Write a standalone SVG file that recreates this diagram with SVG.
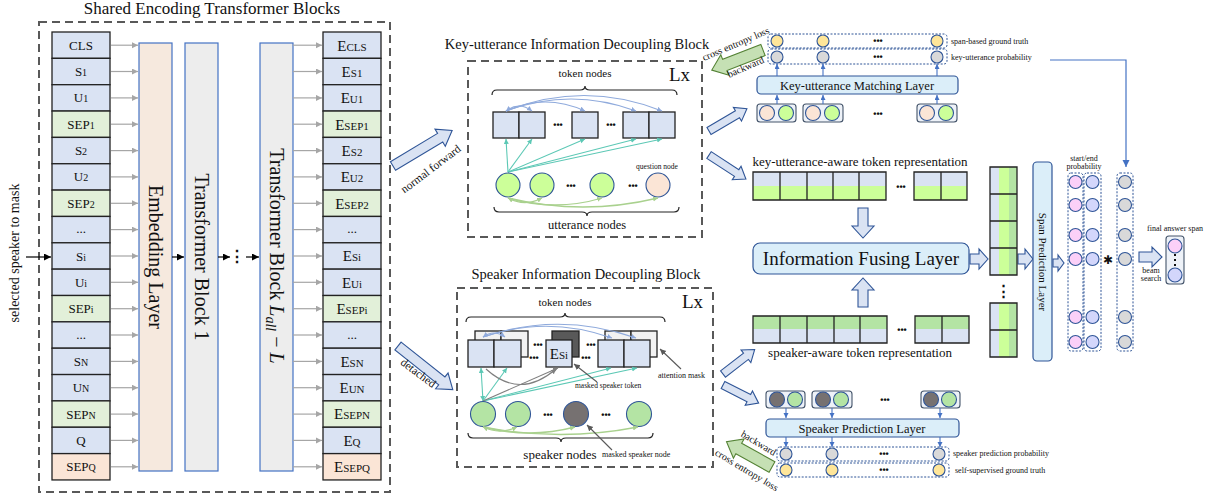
<svg xmlns="http://www.w3.org/2000/svg" width="1215" height="497" viewBox="0 0 1215 497">
<style>
text{font-family:"Liberation Serif","Times New Roman",serif;fill:#111}
.c{text-anchor:middle}
.t13{font-size:13px;text-anchor:middle}
.t15{font-size:15px;text-anchor:middle}
.sb{font-size:10px}
.sb11{font-size:11px}
.tok{stroke:#222;stroke-width:1.3}
.bl{fill:#dae3f3}.gr{fill:#e2f0d9}.pe{fill:#fbe5d6}
.garr{stroke:#a6a6a6;stroke-width:1.2;fill:none;marker-end:url(#mGray)}
.dash{fill:none;stroke:#595959;stroke-width:2;stroke-dasharray:8 5}
.layer{stroke:#4472c4;stroke-width:1.2}
.blk{fill:#dae3f3;stroke:#2f5597;stroke-width:1.1}
.gblk{fill:#c5e0b4;stroke:#548235;stroke-width:1.1}
.lay2{fill:#dbeef9;stroke:#2f5597;stroke-width:1.2}
.dots{font-family:"Liberation Sans",Arial,sans-serif;font-weight:bold;font-size:9px;text-anchor:middle;fill:#111}
.nb{stroke:#2f5597;stroke-width:1.1}
.lime{fill:#ccff99}.sg{fill:#b4e4a4}.dk{fill:#767171}.yl{fill:#ffe699}.gy{fill:#d9d9d9}.pk{fill:#fbd0f8}.lv{fill:#d3d6fb}.pc{fill:#fbe5d6}
.rowbox{fill:#fff;stroke:#2f5597;stroke-width:1;stroke-dasharray:2 1.5}
.pair{fill:#eef2f8;stroke:#44546a;stroke-width:1.1}
.barr{stroke:#4472c4;stroke-width:1.1;fill:none;marker-end:url(#mBlue)}
.arcB{stroke:#8faadc;stroke-width:1.1;fill:none;marker-end:url(#mLB)}
.arcT{stroke:#5cc8b5;stroke-width:1.1;fill:none;marker-end:url(#mT)}
.arcG{stroke:#a9d18e;stroke-width:1.3;fill:none;marker-end:url(#mG)}
.ann{stroke:#595959;stroke-width:1.1;fill:none;marker-end:url(#mD)}
.rep{stroke:#222;stroke-width:1.3;fill:none}
</style>
<defs>
<marker id="mGray" markerUnits="userSpaceOnUse" markerWidth="7" markerHeight="7" refX="6" refY="3" orient="auto"><path d="M0,0 L6,3 L0,6 z" fill="#a6a6a6"/></marker>
<marker id="mBlack" markerUnits="userSpaceOnUse" markerWidth="8" markerHeight="8" refX="7" refY="3.5" orient="auto"><path d="M0,0 L7,3.5 L0,7 z" fill="#000"/></marker>
<marker id="mBlue" markerUnits="userSpaceOnUse" markerWidth="7" markerHeight="7" refX="5" refY="2.5" orient="auto"><path d="M0,0 L5,2.5 L0,5 z" fill="#4472c4"/></marker>
<marker id="mBlue2" markerUnits="userSpaceOnUse" markerWidth="9" markerHeight="9" refX="7" refY="3.5" orient="auto"><path d="M0,0 L7,3.5 L0,7 z" fill="#4472c4"/></marker>
<marker id="mLB" markerUnits="userSpaceOnUse" markerWidth="6" markerHeight="6" refX="5" refY="2.5" orient="auto-start-reverse"><path d="M0,0 L5,2.5 L0,5 z" fill="#8faadc"/></marker>
<marker id="mT" markerUnits="userSpaceOnUse" markerWidth="6" markerHeight="6" refX="5" refY="2.5" orient="auto-start-reverse"><path d="M0,0 L5,2.5 L0,5 z" fill="#5cc8b5"/></marker>
<marker id="mG" markerUnits="userSpaceOnUse" markerWidth="6" markerHeight="6" refX="5" refY="2.5" orient="auto-start-reverse"><path d="M0,0 L5,2.5 L0,5 z" fill="#a9d18e"/></marker>
<marker id="mD" markerUnits="userSpaceOnUse" markerWidth="7" markerHeight="7" refX="6" refY="3" orient="auto"><path d="M0,0 L6,3 L0,6 z" fill="#595959"/></marker>
<marker id="mDG" markerUnits="userSpaceOnUse" markerWidth="6" markerHeight="6" refX="5" refY="2.5" orient="auto"><path d="M0,0 L5,2.5 L0,5 z" fill="#7f7f7f"/></marker>
</defs>
<rect width="1215" height="497" fill="#fff"/>

<!-- ============ Shared encoder ============ -->
<g id="shared-encoder">
<text x="212" y="14" class="c" font-size="17">Shared Encoding Transformer Blocks</text>
<rect x="39" y="22" width="351" height="470" class="dash"/>
</g>

<g id="input-tokens">
<rect class="tok bl" x="52" y="32" width="58" height="26.35"/>
<rect class="tok bl" x="52" y="58.35" width="58" height="26.35"/>
<rect class="tok bl" x="52" y="84.7" width="58" height="26.35"/>
<rect class="tok gr" x="52" y="111.05" width="58" height="26.35"/>
<rect class="tok bl" x="52" y="137.4" width="58" height="26.35"/>
<rect class="tok bl" x="52" y="163.75" width="58" height="26.35"/>
<rect class="tok gr" x="52" y="190.1" width="58" height="26.35"/>
<rect class="tok bl" x="52" y="216.45" width="58" height="26.35"/>
<rect class="tok bl" x="52" y="242.8" width="58" height="26.35"/>
<rect class="tok bl" x="52" y="269.15" width="58" height="26.35"/>
<rect class="tok gr" x="52" y="295.5" width="58" height="26.35"/>
<rect class="tok bl" x="52" y="321.85" width="58" height="26.35"/>
<rect class="tok bl" x="52" y="348.2" width="58" height="26.35"/>
<rect class="tok bl" x="52" y="374.55" width="58" height="26.35"/>
<rect class="tok gr" x="52" y="400.9" width="58" height="26.35"/>
<rect class="tok bl" x="52" y="427.25" width="58" height="26.35"/>
<rect class="tok pe" x="52" y="453.6" width="58" height="26.35"/>
<text class="t13" x="81" y="49.7">CLS</text>
<text class="t13" x="81" y="76">S<tspan class="sb">1</tspan></text>
<text class="t13" x="81" y="102.4">U<tspan class="sb">1</tspan></text>
<text class="t13" x="81" y="128.7">SEP<tspan class="sb">1</tspan></text>
<text class="t13" x="81" y="155.1">S<tspan class="sb">2</tspan></text>
<text class="t13" x="81" y="181.4">U<tspan class="sb">2</tspan></text>
<text class="t13" x="81" y="207.8">SEP<tspan class="sb">2</tspan></text>
<text class="t13" x="81" y="233">...</text>
<text class="t13" x="81" y="260.5">S<tspan class="sb">i</tspan></text>
<text class="t13" x="81" y="286.8">U<tspan class="sb">i</tspan></text>
<text class="t13" x="81" y="313.2">SEP<tspan class="sb">i</tspan></text>
<text class="t13" x="81" y="338.5">...</text>
<text class="t13" x="81" y="365.9">S<tspan class="sb">N</tspan></text>
<text class="t13" x="81" y="392.2">U<tspan class="sb">N</tspan></text>
<text class="t13" x="81" y="418.6">SEP<tspan class="sb">N</tspan></text>
<text class="t13" x="81" y="444.9">Q</text>
<text class="t13" x="81" y="471.3">SEP<tspan class="sb">Q</tspan></text>
</g>

<g id="embedding-layer">
<rect class="layer" x="139" y="43" width="33" height="428" fill="#f6e9de"/>
<text transform="translate(155.5,257) rotate(90)" class="c" font-size="20" y="7">Embedding Layer</text>
</g>
<g id="transformer-block-1">
<rect class="layer" x="185" y="43" width="33" height="428" fill="#ededed"/>
<text transform="translate(201.5,257) rotate(90)" class="c" font-size="20" y="7">Transformer Block 1</text>
</g>
<g id="transformer-block-L">
<rect class="layer" x="260" y="43" width="33" height="428" fill="#ededed"/>
<text transform="translate(276.5,256) rotate(90)" class="c" font-size="20" y="7">Transformer Block <tspan font-style="italic">L</tspan><tspan font-style="italic" font-size="14" dy="4">all</tspan><tspan dy="-4"> − </tspan><tspan font-style="italic">L</tspan></text>
</g>

<g id="output-tokens">
<rect class="tok bl" x="323" y="32" width="58" height="26.35"/>
<rect class="tok bl" x="323" y="58.35" width="58" height="26.35"/>
<rect class="tok bl" x="323" y="84.7" width="58" height="26.35"/>
<rect class="tok gr" x="323" y="111.05" width="58" height="26.35"/>
<rect class="tok bl" x="323" y="137.4" width="58" height="26.35"/>
<rect class="tok bl" x="323" y="163.75" width="58" height="26.35"/>
<rect class="tok gr" x="323" y="190.1" width="58" height="26.35"/>
<rect class="tok bl" x="323" y="216.45" width="58" height="26.35"/>
<rect class="tok bl" x="323" y="242.8" width="58" height="26.35"/>
<rect class="tok bl" x="323" y="269.15" width="58" height="26.35"/>
<rect class="tok gr" x="323" y="295.5" width="58" height="26.35"/>
<rect class="tok bl" x="323" y="321.85" width="58" height="26.35"/>
<rect class="tok bl" x="323" y="348.2" width="58" height="26.35"/>
<rect class="tok bl" x="323" y="374.55" width="58" height="26.35"/>
<rect class="tok gr" x="323" y="400.9" width="58" height="26.35"/>
<rect class="tok bl" x="323" y="427.25" width="58" height="26.35"/>
<rect class="tok pe" x="323" y="453.6" width="58" height="26.35"/>
<text class="t15" x="352" y="50.5">E<tspan class="sb11">CLS</tspan></text>
<text class="t15" x="352" y="76.8">E<tspan class="sb11">S1</tspan></text>
<text class="t15" x="352" y="103.2">E<tspan class="sb11">U1</tspan></text>
<text class="t15" x="352" y="129.5">E<tspan class="sb11">SEP1</tspan></text>
<text class="t15" x="352" y="155.9">E<tspan class="sb11">S2</tspan></text>
<text class="t15" x="352" y="182.2">E<tspan class="sb11">U2</tspan></text>
<text class="t15" x="352" y="208.6">E<tspan class="sb11">SEP2</tspan></text>
<text class="t13" x="352" y="233">...</text>
<text class="t15" x="352" y="261.3">E<tspan class="sb11">Si</tspan></text>
<text class="t15" x="352" y="287.6">E<tspan class="sb11">Ui</tspan></text>
<text class="t15" x="352" y="314">E<tspan class="sb11">SEPi</tspan></text>
<text class="t13" x="352" y="338.5">...</text>
<text class="t15" x="352" y="366.7">E<tspan class="sb11">SN</tspan></text>
<text class="t15" x="352" y="393">E<tspan class="sb11">UN</tspan></text>
<text class="t15" x="352" y="419.4">E<tspan class="sb11">SEPN</tspan></text>
<text class="t15" x="352" y="445.7">E<tspan class="sb11">Q</tspan></text>
<text class="t15" x="352" y="472.1">E<tspan class="sb11">SEPQ</tspan></text>
</g>

<g id="mask-label">
<text transform="translate(19,253) rotate(-90)" class="c" font-size="14">selected speaker to mask</text>
</g>

<g id="encoder-connectors">
<path class="garr" d="M111,45.2H138"/><path class="garr" d="M111,71.5H138"/><path class="garr" d="M111,97.9H138"/><path class="garr" d="M111,124.2H138"/><path class="garr" d="M111,150.6H138"/><path class="garr" d="M111,176.9H138"/><path class="garr" d="M111,203.3H138"/><path class="garr" d="M111,229.6H138"/><path class="garr" d="M111,256H138"/><path class="garr" d="M111,282.3H138"/><path class="garr" d="M111,308.7H138"/><path class="garr" d="M111,335H138"/><path class="garr" d="M111,361.4H138"/><path class="garr" d="M111,387.7H138"/><path class="garr" d="M111,414.1H138"/><path class="garr" d="M111,440.4H138"/><path class="garr" d="M111,466.8H138"/>
<path class="garr" d="M293,45.2H322"/><path class="garr" d="M293,71.5H322"/><path class="garr" d="M293,97.9H322"/><path class="garr" d="M293,124.2H322"/><path class="garr" d="M293,150.6H322"/><path class="garr" d="M293,176.9H322"/><path class="garr" d="M293,203.3H322"/><path class="garr" d="M293,229.6H322"/><path class="garr" d="M293,256H322"/><path class="garr" d="M293,282.3H322"/><path class="garr" d="M293,308.7H322"/><path class="garr" d="M293,335H322"/><path class="garr" d="M293,361.4H322"/><path class="garr" d="M293,387.7H322"/><path class="garr" d="M293,414.1H322"/><path class="garr" d="M293,440.4H322"/><path class="garr" d="M293,466.8H322"/>
<g stroke="#000" stroke-width="1.2" fill="none" marker-end="url(#mBlack)">
<path d="M26,257H51"/>
<path d="M172,257H184"/>
<path d="M218,257H230"/>
<path d="M246,257H259"/>
</g>
<text x="237" y="262" class="c" font-size="16" font-weight="bold" font-family="DejaVu Sans, sans-serif">⋮</text>
</g>

<!-- ============ Key-utterance block ============ -->
<g id="key-utterance-block">
<text x="577" y="49" class="c" font-size="14.5">Key-utterance Information Decoupling Block</text>
<rect x="468" y="61" width="234" height="176" class="dash"/>
<text x="669" y="81" font-size="19">Lx</text>
<text x="585" y="77" class="c" font-size="11">token nodes</text>
<path d="M492,95 Q492,90 497,90 L580,90 Q585,90 585,86 Q585,90 590,90 L672,90 Q677,90 677,95" fill="none" stroke="#222" stroke-width="1.2"/>
<g class="tok bl">
<rect x="493" y="112" width="26" height="26"/>
<rect x="519" y="112" width="26" height="26"/>
<rect x="572" y="112" width="26" height="26"/>
<rect x="623" y="112" width="26" height="26"/>
<rect x="649" y="112" width="26" height="26"/>
</g>
<text class="dots" x="558" y="128">•••</text>
<text class="dots" x="611" y="128">•••</text>
<path class="arcB" d="M506,111 Q519,101 532,111" marker-start="url(#mLB)"/>
<path class="arcB" d="M506,111 Q545,93 585,111"/>
<path class="arcB" d="M506,111 Q571,87 636,111"/>
<path class="arcB" d="M506,111 Q584,80 662,111"/>
<path class="arcT" d="M508,172 L506,139"/>
<path class="arcT" d="M508,172 L532,139"/>
<path class="arcT" d="M508,172 L585,139"/>
<path class="arcT" d="M508,172 L636,139"/>
<path class="arcT" d="M508,172 L662,139"/>
<g class="nb">
<circle class="lime" cx="508" cy="185" r="12"/>
<circle class="lime" cx="542" cy="185" r="12"/>
<circle class="lime" cx="602" cy="185" r="12"/>
<circle class="pc" cx="658" cy="185" r="12"/>
</g>
<text class="dots" x="571" y="189">•••</text>
<text class="dots" x="633" y="189">•••</text>
<text x="657" y="169" class="c" font-size="7.5">question node</text>
<path class="arcG" d="M508,198 Q525,207 542,198" marker-start="url(#mG)"/>
<path class="arcG" d="M508,198 Q555,212 602,198"/>
<path class="arcG" d="M508,198 Q583,216 658,198"/>
<path d="M494,207 Q494,212 499,212 L582,212 Q587,212 587,216 Q587,212 592,212 L674,212 Q679,212 679,207" fill="none" stroke="#222" stroke-width="1.2"/>
<text x="587" y="229" class="c" font-size="12.5">utterance nodes</text>
</g>

<!-- ============ Speaker block ============ -->
<g id="speaker-block">
<text x="586" y="279" class="c" font-size="14.5">Speaker Information Decoupling Block</text>
<rect x="457" y="288" width="256" height="179" class="dash"/>
<text x="682" y="308" font-size="19">Lx</text>
<text x="565" y="306" class="c" font-size="11">token nodes</text>
<path d="M466,322 Q466,317 471,317 L560,317 Q565,317 565,313 Q565,317 570,317 L660,317 Q665,317 665,322" fill="none" stroke="#222" stroke-width="1.2"/>
<g class="tok" fill="#f2f2f2">
<rect x="475" y="331" width="26" height="26"/>
<rect x="501" y="331" width="27" height="26"/>
<rect x="605" y="331" width="26" height="26"/>
<rect x="631" y="331" width="26" height="26"/>
</g>
<rect class="tok" x="552" y="331" width="27" height="26" fill="#595959"/>
<g class="tok bl">
<rect x="468" y="340" width="26" height="27"/>
<rect x="494" y="340" width="27" height="27"/>
<rect x="546" y="340" width="26" height="27"/>
<rect x="598" y="340" width="26" height="27"/>
<rect x="624" y="340" width="26" height="27"/>
</g>
<text x="559" y="359" class="c" font-size="15">E<tspan font-size="11">Si</tspan></text>
<text class="dots" x="538" y="348">•••</text>
<text class="dots" x="534" y="361">•••</text>
<text class="dots" x="591" y="348">•••</text>
<text class="dots" x="586" y="361">•••</text>
<path class="arcB" d="M483,337 Q494,329 505,337" marker-start="url(#mLB)"/>
<path class="arcB" d="M483,337 Q547,315 612,338"/>
<path class="arcB" d="M483,337 Q559,311 636,338"/>
<path class="arcT" d="M483,401 L481,368" marker-start="url(#mT)"/>
<path class="arcT" d="M483,401 L507,368"/>
<path class="arcT" d="M483,401 L611,368"/>
<path class="arcT" d="M483,401 L637,368"/>
<path d="M483,401 L558,368" stroke="#7f7f7f" stroke-width="1.1" fill="none" marker-end="url(#mDG)"/>
<path d="M486,369 Q520,400 556,369" stroke="#7f7f7f" stroke-width="1.1" fill="none" marker-end="url(#mDG)"/>
<g class="nb">
<circle class="sg" cx="483" cy="414" r="12.5"/>
<circle class="sg" cx="518" cy="414" r="12.5"/>
<circle class="dk" cx="576" cy="414" r="12.5"/>
<circle class="sg" cx="639" cy="414" r="12.5"/>
</g>
<text class="dots" x="548" y="418">•••</text>
<text class="dots" x="606" y="418">•••</text>
<path class="arcG" d="M483,427 Q500,435 517,427" marker-start="url(#mG)"/>
<path class="arcG" d="M483,427 Q529,439 575,427"/>
<path class="arcG" d="M483,427 Q561,442 638,427"/>
<path d="M468,433 Q468,438 473,438 L556,438 Q561,438 561,442 Q561,438 566,438 L648,438 Q653,438 653,433" fill="none" stroke="#222" stroke-width="1.2"/>
<text x="560" y="459" class="c" font-size="13">speaker nodes</text>
<text x="602" y="457" font-size="8">masked speaker node</text>
<path class="ann" d="M612,450 L587,425"/>
<text x="575" y="388" font-size="7.5">masked speaker token</text>
<path class="ann" d="M597,382 L574,364"/>
<text x="658" y="378" font-size="8">attention mask</text>
<path class="ann" d="M681,369 L660,349"/>
</g>

<!-- ============ Block arrows ============ -->
<g id="block-arrows">
<g transform="translate(393,166) rotate(-31)">
<polygon class="blk" points="0,-5 55,-5 55,-10 69,0 55,10 55,5 0,5"/>
</g>
<text transform="translate(433,172) rotate(-37)" class="c" font-size="11.5">normal forward</text>
<g transform="translate(398,346) rotate(38.5)">
<polygon class="blk" points="0,-5 56,-5 56,-10 70,0 56,10 56,5 0,5"/>
</g>
<text transform="translate(416,376) rotate(37)" class="c" font-size="11.5">detached</text>
<g transform="translate(709,131) rotate(-30.5)"><polygon class="blk" points="0,-4 33,-4 33,-8 44,0 33,8 33,4 0,4"/></g>
<g transform="translate(709,155) rotate(33)"><polygon class="blk" points="0,-4 33,-4 33,-8 44,0 33,8 33,4 0,4"/></g>
<g transform="translate(723,374) rotate(-37.7)"><polygon class="blk" points="0,-4 29,-4 29,-8 40,0 29,8 29,4 0,4"/></g>
<g transform="translate(723,385) rotate(27)"><polygon class="blk" points="0,-4 29,-4 29,-8 40,0 29,8 29,4 0,4"/></g>
<g transform="translate(763,50) rotate(158.6)"><polygon class="gblk" points="0,-6 41,-6 41,-11 55,0 41,11 41,6 0,6"/></g>
<text transform="translate(737,47) rotate(-23)" class="c" font-size="10">cross entropy loss</text>
<text transform="translate(747,70) rotate(-24)" class="c" font-size="10">backward</text>
<g transform="translate(772,467) rotate(-151)"><polygon class="gblk" points="0,-6 38,-6 38,-11 52,0 38,11 38,6 0,6"/></g>
<text transform="translate(757,446) rotate(31)" class="c" font-size="10">backward</text>
<text transform="translate(745,473) rotate(31)" class="c" font-size="10">cross entropy loss</text>
<g transform="translate(863,208) rotate(90)"><polygon class="blk" points="0,-5 18,-5 18,-11 30,0 18,11 18,5 0,5"/></g>
<g transform="translate(863,307) rotate(-90)"><polygon class="blk" points="0,-5 17,-5 17,-11 29,0 17,11 17,5 0,5"/></g>
<g transform="translate(970,259)"><polygon class="blk" points="0,-5 9,-5 9,-10 18,0 9,10 9,5 0,5"/></g>
<g transform="translate(1018,259)"><polygon class="blk" points="0,-5 7,-5 7,-10 15,0 7,10 7,5 0,5"/></g>
<g transform="translate(1053,263)"><polygon class="blk" points="0,-4 5,-4 5,-8 11,0 5,8 5,4 0,4"/></g>
<g transform="translate(1139,257)"><polygon class="blk" points="0,-5 13,-5 13,-10 23,0 13,10 13,5 0,5"/></g>
</g>

<!-- ============ Key-utterance matching ============ -->
<g id="span-ground-truth">
<rect class="rowbox" x="768" y="34" width="179" height="14" rx="3"/>
<g class="nb yl"><circle cx="777" cy="41" r="6"/><circle cx="823" cy="41" r="6"/><circle cx="937" cy="41" r="6"/></g>
<text class="dots" x="878" y="44">•••</text>
<text x="951" y="44" font-size="8">span-based ground truth</text>
</g>
<g id="key-utterance-probability">
<rect class="rowbox" x="768" y="49" width="179" height="15" rx="3"/>
<g class="nb gy"><circle cx="777" cy="57" r="6"/><circle cx="823" cy="57" r="6"/><circle cx="937" cy="57" r="6"/></g>
<text class="dots" x="878" y="60">•••</text>
<text x="951" y="60" font-size="8">key-utterance probability</text>
</g>
<g id="key-utterance-matching-layer">
<rect class="lay2" x="757" y="76" width="201" height="18" rx="4"/>
<text x="857" y="89.5" class="c" font-size="12.5">Key-utterance Matching Layer</text>
</g>
<g id="key-pairs">
<rect class="pair" x="757" y="104" width="39" height="18" rx="3"/>
<rect class="pair" x="803" y="104" width="40" height="18" rx="3"/>
<rect class="pair" x="917" y="104" width="40" height="18" rx="3"/>
<g class="nb">
<circle class="pc" cx="767" cy="113" r="7.5"/><circle class="lime" cx="786" cy="113" r="7.5"/>
<circle class="pc" cx="813" cy="113" r="7.5"/><circle class="lime" cx="832" cy="113" r="7.5"/>
<circle class="pc" cx="927" cy="113" r="7.5"/><circle class="lime" cx="946" cy="113" r="7.5"/>
</g>
<text class="dots" x="878" y="117">•••</text>
</g>

<!-- ============ Representations ============ -->
<g id="key-aware-representation">
<text x="860" y="166" class="c" font-size="13">key-utterance-aware token representation</text>
<g fill="#dae3f3"><rect x="753" y="172" width="133" height="14"/><rect x="914" y="172" width="53" height="14"/></g>
<g fill="#ccff99"><rect x="753" y="186" width="133" height="14"/><rect x="914" y="186" width="53" height="14"/></g>
<path class="rep" d="M753,172H886V200H753Z M780,172V200 M807,172V200 M833,172V200 M859,172V200 M914,172H967V200H914Z M941,172V200"/>
<text class="dots" x="901" y="190">•••</text>
</g>
<g id="information-fusing-layer">
<rect class="lay2" x="753" y="243" width="216" height="31" rx="7"/>
<text x="861" y="265" class="c" font-size="19">Information Fusing Layer</text>
</g>
<g id="speaker-aware-representation">
<g fill="#b4e4a4"><rect x="753" y="316" width="134" height="13"/><rect x="915" y="316" width="54" height="13"/></g>
<g fill="#dae3f3"><rect x="753" y="329" width="134" height="14"/><rect x="915" y="329" width="54" height="14"/></g>
<path class="rep" d="M753,316H887V343H753Z M780,316V343 M807,316V343 M834,316V343 M860,316V343 M915,316H969V343H915Z M942,316V343"/>
<text class="dots" x="902" y="333">•••</text>
<text x="860" y="357" class="c" font-size="13">speaker-aware token representation</text>
</g>
<g id="fused-representation">
<rect x="990" y="167" width="9" height="108" fill="#dae3f3"/><rect x="999" y="167" width="10" height="108" fill="#ccff99"/><rect x="1009" y="167" width="8" height="108" fill="#b4e4a4"/>
<rect x="990" y="303" width="9" height="54" fill="#dae3f3"/><rect x="999" y="303" width="10" height="54" fill="#ccff99"/><rect x="1009" y="303" width="8" height="54" fill="#b4e4a4"/>
<path class="rep" d="M990,167H1017V275H990Z M990,194H1017 M990,221H1017 M990,248H1017 M990,303H1017V357H990Z M990,330H1017"/>
<text x="1003.5" y="296" class="c" font-size="15" font-weight="bold" font-family="DejaVu Sans, sans-serif">⋮</text>
</g>
<g id="span-prediction-layer">
<rect class="lay2" x="1033" y="162" width="19" height="199" rx="4"/>
<text transform="translate(1042.5,262) rotate(90)" class="c" font-size="11" y="4">Span Prediction Layer</text>
</g>
<g id="start-end-probability">
<text x="1084" y="161" class="c" font-size="8">start/end</text>
<text x="1084" y="169" class="c" font-size="8">probability</text>
<rect class="rowbox" x="1068" y="173" width="15" height="178" rx="3"/>
<rect class="rowbox" x="1084" y="173" width="17" height="178" rx="3"/>
<g class="nb pk"><circle cx="1075.5" cy="182" r="6.5"/><circle cx="1075.5" cy="205" r="6.5"/><circle cx="1075.5" cy="235" r="6.5"/><circle cx="1075.5" cy="259" r="6.5"/><circle cx="1075.5" cy="317" r="6.5"/><circle cx="1075.5" cy="342" r="6.5"/></g>
<g class="nb lv"><circle cx="1092.5" cy="182" r="6.5"/><circle cx="1092.5" cy="205" r="6.5"/><circle cx="1092.5" cy="235" r="6.5"/><circle cx="1092.5" cy="259" r="6.5"/><circle cx="1092.5" cy="317" r="6.5"/><circle cx="1092.5" cy="342" r="6.5"/></g>
</g>
<text x="1108" y="264" class="c" font-size="12" font-family="DejaVu Sans, sans-serif">✱</text>
<g id="key-utterance-weights">
<rect class="rowbox" x="1117" y="173" width="16" height="178" rx="3"/>
<g class="nb gy"><circle cx="1125" cy="182" r="6.5"/><circle cx="1125" cy="205" r="6.5"/><circle cx="1125" cy="235" r="6.5"/><circle cx="1125" cy="259" r="6.5"/><circle cx="1125" cy="317" r="6.5"/><circle cx="1125" cy="342" r="6.5"/></g>
</g>
<g id="final-answer-span">
<text x="1175" y="231" class="c" font-size="8">final answer span</text>
<rect class="pair" x="1166" y="236" width="18" height="48" rx="3"/>
<g class="nb"><circle class="pk" cx="1175" cy="246" r="7"/><circle class="lv" cx="1175" cy="275" r="7"/></g>
<g fill="#111"><rect x="1174" y="254" width="2" height="2"/><rect x="1174" y="259" width="2" height="2"/><rect x="1174" y="264" width="2" height="2"/></g>
<text x="1151" y="273" class="c" font-size="8">beam</text>
<text x="1151" y="281" class="c" font-size="8">search</text>
</g>

<!-- ============ Speaker prediction ============ -->
<g id="speaker-pairs">
<rect class="pair" x="766" y="391" width="39" height="17" rx="3"/>
<rect class="pair" x="812" y="391" width="40" height="17" rx="3"/>
<rect class="pair" x="921" y="391" width="39" height="17" rx="3"/>
<g class="nb">
<circle class="dk" cx="777" cy="399.5" r="7.5"/><circle class="sg" cx="795" cy="399.5" r="7.5"/>
<circle class="dk" cx="823" cy="399.5" r="7.5"/><circle class="sg" cx="841" cy="399.5" r="7.5"/>
<circle class="dk" cx="931" cy="399.5" r="7.5"/><circle class="sg" cx="949" cy="399.5" r="7.5"/>
</g>
<text class="dots" x="885" y="403">•••</text>
</g>
<g id="speaker-prediction-layer">
<rect class="lay2" x="766" y="419" width="193" height="18" rx="4"/>
<text x="862" y="432.5" class="c" font-size="12.5">Speaker Prediction Layer</text>
</g>
<g id="speaker-prediction-probability">
<rect class="rowbox" x="777" y="447" width="172" height="14" rx="3"/>
<g class="nb gy"><circle cx="786" cy="454" r="6"/><circle cx="832" cy="454" r="6"/><circle cx="939" cy="454" r="6"/></g>
<text class="dots" x="884" y="457">•••</text>
<text x="953" y="456" font-size="8">speaker prediction probability</text>
</g>
<g id="self-supervised-ground-truth">
<rect class="rowbox" x="777" y="463" width="172" height="14" rx="3"/>
<g class="nb yl"><circle cx="786" cy="470" r="6"/><circle cx="832" cy="470" r="6"/><circle cx="939" cy="470" r="6"/></g>
<text class="dots" x="884" y="473">•••</text>
<text x="955" y="473" font-size="8">self-supervised ground truth</text>
</g>

<!-- ============ thin blue connectors ============ -->
<g id="connectors">
<path class="barr" d="M777,104V95"/><path class="barr" d="M823,104V95"/><path class="barr" d="M937,104V95"/>
<path class="barr" d="M777,76V64"/><path class="barr" d="M823,76V64"/><path class="barr" d="M937,76V64"/>
<path class="barr" d="M786,408V418"/><path class="barr" d="M832,408V418"/><path class="barr" d="M940,408V418"/>
<path class="barr" d="M786,437V447"/><path class="barr" d="M832,437V447"/><path class="barr" d="M940,437V447"/>
<path d="M1050,60H1126V167" stroke="#4472c4" stroke-width="1.2" fill="none" marker-end="url(#mBlue2)"/>
</g>
</svg>
